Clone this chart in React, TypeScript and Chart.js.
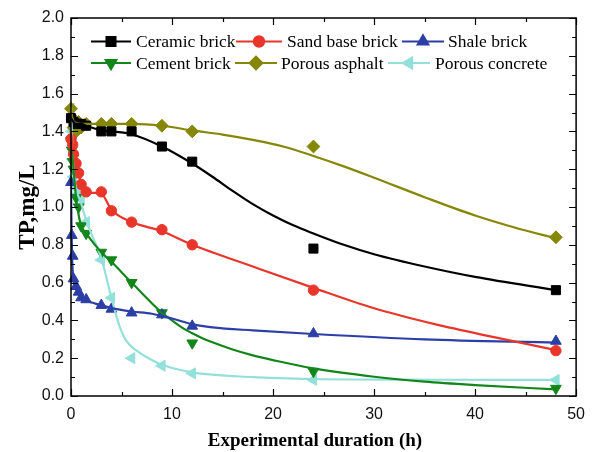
import React, { useEffect, useRef } from 'react';
import { Chart, registerables } from 'chart.js';
import { drawPoint } from 'chart.js/helpers';
Chart.register(...registerables);

const seriesNames = ['Ceramic brick', 'Sand base brick', 'Shale brick', 'Cement brick', 'Porous asphalt', 'Porous concrete'];
const seriesColors = ['#000000', '#e8362b', '#2b3fa6', '#12861a', '#868607', '#93e0da'];
const pointStyles = ['rect', 'circle', 'triangle', 'triangle', 'rectRot', 'triangle'];
const pointRotations = [0, 0, 0, 180, 0, 270];
const pointRadii = [6.4, 5.2, 6.2, 6.2, 6.4, 6.4];

// measured points [hours, TP]
const ceramicPts = [[0, 1.47], [0.25, 1.45], [0.5, 1.44], [1, 1.44], [1.5, 1.43], [3, 1.40], [4, 1.40], [6, 1.40], [9, 1.32], [12, 1.24], [24, 0.78], [48, 0.56]];
const sandPts = [[0, 1.36], [0.17, 1.33], [0.25, 1.28], [0.5, 1.23], [0.75, 1.18], [1, 1.12], [1.5, 1.08], [3, 1.08], [4, 0.98], [6, 0.92], [9, 0.88], [12, 0.80], [24, 0.56], [48, 0.24]];
const shalePts = [[0, 1.13], [0.08, 0.85], [0.17, 0.74], [0.25, 0.62], [0.5, 0.58], [0.75, 0.55], [1, 0.52], [1.5, 0.51], [3, 0.48], [4, 0.46], [6, 0.44], [9, 0.43], [12, 0.37], [24, 0.33], [48, 0.29]];
const cementPts = [[0, 1.35], [0.08, 1.30], [0.17, 1.24], [0.25, 1.20], [0.5, 1.05], [0.75, 1.00], [1, 0.90], [1.5, 0.86], [3, 0.76], [4, 0.72], [6, 0.60], [9, 0.44], [12, 0.28], [24, 0.13], [48, 0.04]];
const asphaltPts = [[0, 1.52], [0.17, 1.47], [0.25, 1.42], [0.5, 1.40], [0.75, 1.45], [1, 1.42], [1.5, 1.44], [3, 1.44], [4, 1.44], [6, 1.44], [9, 1.43], [12, 1.40], [24, 1.32], [48, 0.84]];
const concretePts = [[0, 1.52], [0.08, 1.40], [0.17, 1.25], [0.25, 1.16], [0.5, 1.10], [0.75, 1.07], [1, 1.04], [1.5, 0.92], [3, 0.72], [4, 0.52], [6, 0.20], [9, 0.16], [12, 0.12], [24, 0.085], [48, 0.085]];

// fitted curves [hours, TP]
const ceramicFit = [[0, 1.47], [0.25, 1.45], [0.5, 1.44], [1, 1.44], [1.5, 1.43], [3, 1.405], [4, 1.40], [6, 1.385], [9, 1.32], [12, 1.23], [14, 1.16], [16, 1.085], [18, 1.015], [20, 0.955], [22, 0.903], [24, 0.86], [27, 0.80], [30, 0.75], [35, 0.685], [40, 0.63], [48, 0.56]];
const sandFit = [[0, 1.40], [0.25, 1.30], [0.5, 1.23], [1, 1.13], [1.5, 1.085], [2, 1.075], [3, 1.07], [4, 0.985], [6, 0.92], [9, 0.872], [12, 0.80], [18, 0.685], [24, 0.572], [30, 0.464], [36, 0.38], [42, 0.31], [48, 0.243]];
const shaleFit = [[0, 1.13], [0.05, 0.9], [0.1, 0.75], [0.2, 0.64], [0.4, 0.58], [0.75, 0.54], [1, 0.52], [1.5, 0.505], [3, 0.48], [4, 0.465], [6, 0.447], [8, 0.435], [10, 0.41], [12, 0.38], [14, 0.363], [18, 0.347], [24, 0.328], [35, 0.30], [48, 0.282]];
const cementFit = [[0, 1.37], [0.25, 1.2], [0.5, 1.05], [0.75, 0.96], [1, 0.90], [1.5, 0.86], [3, 0.76], [4, 0.71], [6, 0.60], [9, 0.44], [10, 0.40], [11, 0.362], [12, 0.332], [13, 0.306], [14, 0.284], [16, 0.246], [18, 0.215], [20, 0.19], [24, 0.146], [30, 0.102], [35, 0.076], [40, 0.058], [48, 0.035]];
const asphaltFit = [[0, 1.50], [0.3, 1.45], [1, 1.44], [3, 1.44], [6, 1.44], [9, 1.43], [12, 1.405], [15, 1.383], [18, 1.355], [21, 1.32], [24, 1.27], [27, 1.215], [30, 1.155], [35, 1.052], [40, 0.955], [44, 0.89], [48, 0.834]];
const concreteFit = [[0, 1.53], [0.25, 1.2], [0.5, 1.1], [1, 1.02], [1.5, 0.93], [2, 0.86], [3, 0.73], [4, 0.52], [4.8, 0.37], [5.5, 0.29], [6.5, 0.24], [8, 0.19], [9, 0.165], [12, 0.125], [18, 0.10], [24, 0.09], [36, 0.086], [48, 0.085]];

const seriesPoints = [ceramicPts, sandPts, shalePts, cementPts, asphaltPts, concretePts];
const seriesFits = [ceramicFit, sandFit, shaleFit, cementFit, asphaltFit, concreteFit];

const xTickValues = [0, 10, 20, 30, 40, 50];
const xMinorValues = [5, 15, 25, 35, 45];
const yTickValues = [0, 0.2, 0.4, 0.6, 0.8, 1.0, 1.2, 1.4, 1.6, 1.8, 2.0];
const xTitle = 'Experimental duration (h)';
const yTitle = 'TP,mg/L';

const toXY = (arr: number[][]) => arr.map(([x, y]) => ({ x, y }));

const framePlugin = {
  id: 'frame',
  afterDraw(chart: any) {
    const { ctx, chartArea: a, scales } = chart;
    const xs = scales.x;
    const ys = scales.y;
    ctx.save();
    ctx.strokeStyle = '#000';
    ctx.lineWidth = 1.5;
    ctx.strokeRect(a.left, a.top, a.right - a.left, a.bottom - a.top);
    ctx.lineWidth = 1.2;
    ctx.beginPath();
    const xt = (v: number, len: number) => {
      const px = Math.round(xs.getPixelForValue(v)) + 0.5;
      ctx.moveTo(px, a.bottom); ctx.lineTo(px, a.bottom - len);
      ctx.moveTo(px, a.top); ctx.lineTo(px, a.top + len);
    };
    xTickValues.forEach(v => xt(v, 7));
    xMinorValues.forEach(v => xt(v, 4));
    const yt = (v: number, len: number) => {
      const py = Math.round(ys.getPixelForValue(v)) + 0.5;
      ctx.moveTo(a.left, py); ctx.lineTo(a.left + len, py);
      ctx.moveTo(a.right, py); ctx.lineTo(a.right - len, py);
    };
    yTickValues.forEach((v, i) => {
      yt(v, 7);
      if (i < yTickValues.length - 1) yt((v + yTickValues[i + 1]) / 2, 4);
    });
    ctx.stroke();

    // titles
    ctx.fillStyle = '#000';
    ctx.textAlign = 'center';
    ctx.textBaseline = 'middle';
    ctx.font = 'bold 19px "Liberation Serif", "Times New Roman", serif';
    ctx.fillText(xTitle, 315, 441);
    ctx.save();
    ctx.font = 'bold 23px "Liberation Serif", "Times New Roman", serif';
    ctx.translate(28, 207);
    ctx.rotate(-Math.PI / 2);
    ctx.fillText(yTitle, 0, 0);
    ctx.restore();

    // legend
    const cols = [[91, 131, 136], [236, 282, 287], [402, 444, 448]];
    const cols2 = [[91, 131, 136], [235, 277, 281], [388, 430, 435]];
    ctx.font = '17.5px "Liberation Serif", "Times New Roman", serif';
    ctx.textAlign = 'left';
    seriesNames.forEach((name, i) => {
      const row = Math.floor(i / 3);
      const c = (row === 0 ? cols : cols2)[i % 3];
      const y = row === 0 ? 41.5 : 63;
      ctx.strokeStyle = seriesColors[i];
      ctx.lineWidth = 2;
      ctx.beginPath();
      ctx.moveTo(c[0], y); ctx.lineTo(c[1], y);
      ctx.stroke();
      ctx.fillStyle = seriesColors[i];
      drawPoint(ctx, { pointStyle: pointStyles[i], rotation: pointRotations[i], radius: pointRadii[i], borderWidth: 1 } as any, (c[0] + c[1]) / 2, y);
      ctx.fillStyle = '#000';
      ctx.fillText(name, c[2], y + 1);
    });
    ctx.restore();
  },
};

export default function App() {
  const ref = useRef<HTMLCanvasElement | null>(null);
  useEffect(() => {
    if (!ref.current) return;
    const datasets: any[] = [];
    seriesNames.forEach((name, i) => {
      datasets.push({
        label: name + ' fit',
        data: toXY(seriesFits[i]),
        showLine: true,
        borderColor: seriesColors[i],
        backgroundColor: seriesColors[i],
        borderWidth: 2.2,
        pointRadius: 0,
        cubicInterpolationMode: 'monotone',
      });
    });
    seriesNames.forEach((name, i) => {
      datasets.push({
        label: name,
        data: toXY(seriesPoints[i]),
        showLine: false,
        borderColor: seriesColors[i],
        backgroundColor: seriesColors[i],
        borderWidth: 1,
        pointStyle: pointStyles[i],
        pointRotation: pointRotations[i],
        pointRadius: pointRadii[i],
        clip: false,
      });
    });
    const chart = new Chart(ref.current, {
      type: 'scatter',
      data: { datasets },
      options: {
        responsive: false,
        animation: false,
        events: [],
        layout: { padding: { left: 0, right: 16, top: 18, bottom: 0 } },
        plugins: { legend: { display: false }, tooltip: { enabled: false } },
        scales: {
          x: {
            type: 'linear', min: 0, max: 50,
            grid: { display: false, drawTicks: false },
            border: { display: false },
            afterFit: (s: any) => { s.height = 56; },
            afterBuildTicks: (s: any) => { s.ticks = xTickValues.map(v => ({ value: v })); },
            ticks: {
              padding: 9,
              color: '#111',
              font: { family: '"Liberation Sans", Arial, sans-serif', size: 16 },
              callback: (v: any) => String(v),
            },
          },
          y: {
            type: 'linear', min: 0, max: 2,
            grid: { display: false, drawTicks: false },
            border: { display: false },
            afterFit: (s: any) => { s.width = 71; },
            afterBuildTicks: (s: any) => { s.ticks = yTickValues.map(v => ({ value: v })); },
            ticks: {
              padding: 7,
              color: '#111',
              font: { family: '"Liberation Sans", Arial, sans-serif', size: 16 },
              callback: (v: any) => Number(v).toFixed(1),
            },
          },
        },
      },
      plugins: [framePlugin],
    });
    return () => chart.destroy();
  }, []);
  return (
    <div style={{ position: 'fixed', left: 0, top: 0, width: 594, height: 452, background: '#fff' }}>
      <canvas ref={ref} width={594} height={452} style={{ width: 594, height: 452 }} />
    </div>
  );
}
